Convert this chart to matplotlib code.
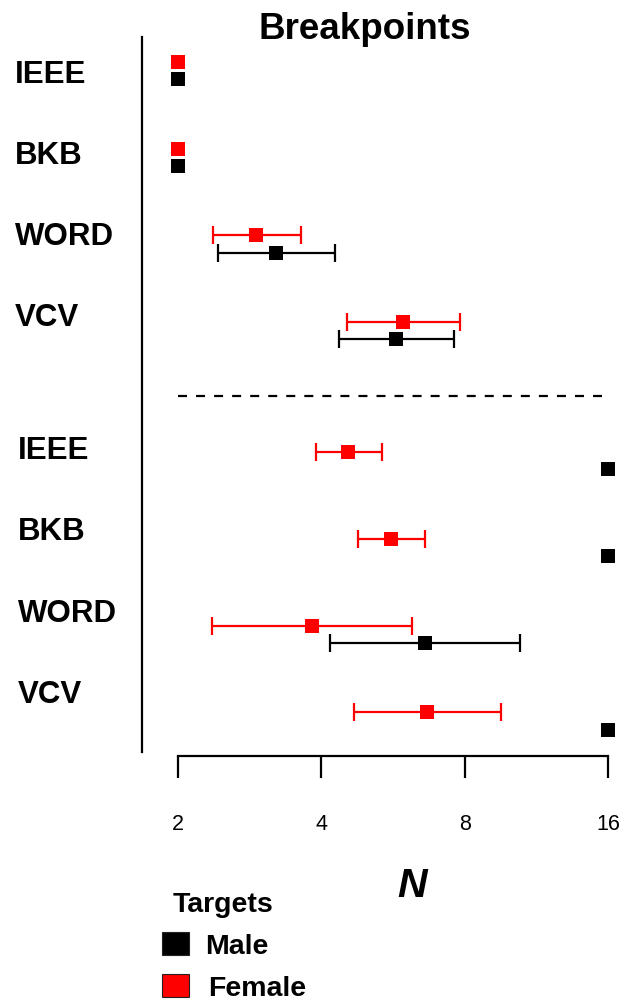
import matplotlib
matplotlib.use("Agg")
import matplotlib.pyplot as plt
from matplotlib.patches import Rectangle
from matplotlib.transforms import blended_transform_factory

plt.rcParams['font.family'] = ['Liberation Sans', 'DejaVu Sans']

# Conditions shown in each block (top block, then bottom block)
conditions = ['IEEE', 'BKB', 'WORD', 'VCV']

# Top block: breakpoint N (median) with lower / upper bounds
upper_female = [2.0, 2.0, 2.92, 5.95]
upper_female_lo = [2.0, 2.0, 2.37, 4.53]
upper_female_hi = [2.0, 2.0, 3.62, 7.82]
upper_male = [2.0, 2.0, 3.22, 5.75]
upper_male_lo = [2.0, 2.0, 2.43, 4.36]
upper_male_hi = [2.0, 2.0, 4.28, 7.58]

# Bottom block
lower_female = [4.56, 5.61, 3.83, 6.68]
lower_female_lo = [3.90, 4.77, 2.36, 4.68]
lower_female_hi = [5.36, 6.61, 6.19, 9.52]
lower_male = [16.0, 16.0, 6.61, 16.0]
lower_male_lo = [16.0, 16.0, 4.17, 16.0]
lower_male_hi = [16.0, 16.0, 10.45, 16.0]

x_ticks = [2, 4, 8, 16]
x_tick_labels = ['2', '4', '8', '16']

RED = '#ff0000'
BLACK = '#000000'

fig = plt.figure(figsize=(6.24, 10), dpi=100)
ax = fig.add_axes([142 / 624, 244 / 1000, 480 / 624, 719 / 1000])
ax.set_xscale('log', base=2)
ax.set_xlim(1.683, 17.1)
ax.set_ylim(8.005, -0.288)

upper_rows = [0.0, 1.0, 2.0, 3.0]
lower_rows = [4.5, 5.5, 6.5, 7.5]
male_shift = 0.2


def draw_series(rows, vals, lo, hi, color):
    for y, v, l, h in zip(rows, vals, lo, hi):
        if h > l:
            ax.errorbar([v], [y], xerr=[[v - l], [h - v]], fmt='none',
                        ecolor=color, elinewidth=1.6, capsize=6.5,
                        capthick=1.6, zorder=2, clip_on=False)
    ax.plot(vals, rows, ls='none', marker='s', markersize=9.4,
            markerfacecolor=color, markeredgewidth=0, zorder=3,
            clip_on=False)


draw_series(upper_rows, upper_female, upper_female_lo, upper_female_hi, RED)
draw_series([r + male_shift for r in upper_rows], upper_male,
            upper_male_lo, upper_male_hi, BLACK)
draw_series(lower_rows, lower_female, lower_female_lo, lower_female_hi, RED)
draw_series([r + male_shift for r in lower_rows], lower_male,
            lower_male_lo, lower_male_hi, BLACK)

# Separator between the two blocks
ax.plot([2.0, 15.55], [3.85, 3.85], color=BLACK, lw=1.6,
        ls=(0, (4.05, 4.07)), zorder=1)

# Axes styling
for side in ('top', 'right'):
    ax.spines[side].set_visible(False)
ax.spines['left'].set_linewidth(1.6)
ax.spines['left'].set_bounds(-0.288, 7.96)
ax.spines['bottom'].set_linewidth(1.6)
ax.spines['bottom'].set_bounds(2, 16)
ax.set_yticks([])
ax.set_xticks(x_ticks)
ax.set_xticklabels(x_tick_labels)
ax.minorticks_off()
ax.tick_params(axis='x', length=16, width=1.6, pad=26, labelsize=15.5,
               direction='out')

# Condition labels to the left of the axis
trans = blended_transform_factory(fig.transFigure, ax.transData)
for k, name in enumerate(conditions):
    ax.text(15 / 624, 0.239 + 0.935 * k, name, transform=trans,
            fontsize=22.5, fontweight='bold', ha='left', va='baseline')
    ax.text(18 / 624, 4.579 + 0.938 * k, name, transform=trans,
            fontsize=22.5, fontweight='bold', ha='left', va='baseline')

# Title and axis label
fig.text(364.5 / 624, 1 - 39 / 1000, 'Breakpoints', fontsize=26.5,
         fontweight='bold', ha='center', va='baseline')
fig.text(411.7 / 624, 1 - 897 / 1000, 'N', fontsize=29.5,
         fontweight='bold', fontstyle='italic', ha='center', va='baseline')

# Legend
fig.text(173 / 624, 1 - 912 / 1000, 'Targets', fontsize=20.5,
         fontweight='bold', ha='left', va='baseline')
legend_items = [('Male', BLACK, 955, 205), ('Female', RED, 997, 208)]
for label, color, base, tx in legend_items:
    fig.patches.append(Rectangle((162 / 624, 1 - base / 1000), 27 / 624,
                                 23 / 1000, transform=fig.transFigure,
                                 facecolor=color, edgecolor='#222222',
                                 linewidth=0.8))
    fig.text(tx / 624, 1 - (base - 1) / 1000, label, fontsize=20.5,
             fontweight='bold', ha='left', va='baseline')

fig.savefig('out.png', dpi=100)
